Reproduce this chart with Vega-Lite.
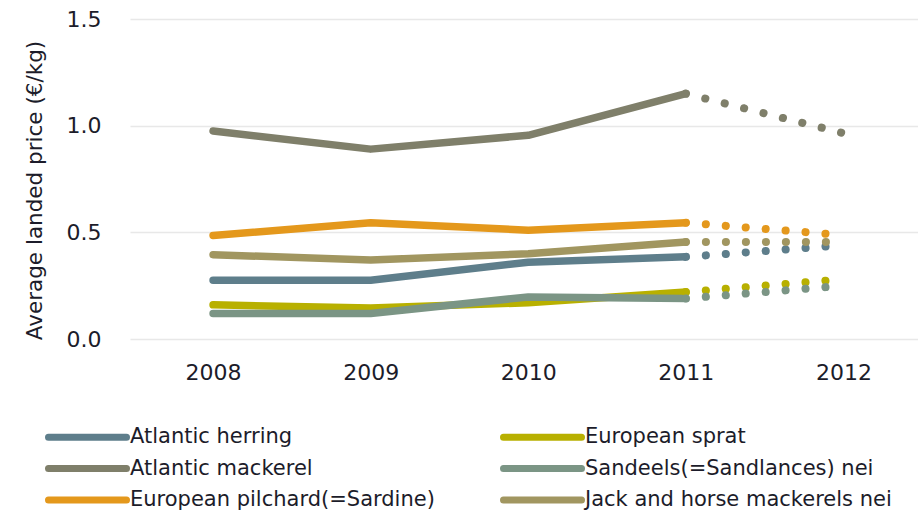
{
  "$schema": "https://vega.github.io/schema/vega-lite/v6.json",
  "width": 788,
  "height": 320,
  "autosize": {"type": "none"},
  "padding": {"left": 130, "top": 19, "right": 0, "bottom": 172},
  "background": "white",
  "config": {"view": {"stroke": null}, "font": "DejaVu Sans"},
  "data": {
    "values": [
      {"species": "Atlantic herring", "year": 2008, "price": 0.275},
      {"species": "Atlantic herring", "year": 2009, "price": 0.275},
      {"species": "Atlantic herring", "year": 2010, "price": 0.36},
      {"species": "Atlantic herring", "year": 2011, "price": 0.385},
      {"species": "Atlantic herring", "year": 2012, "price": 0.44},
      {"species": "European sprat", "year": 2008, "price": 0.16},
      {"species": "European sprat", "year": 2009, "price": 0.145},
      {"species": "European sprat", "year": 2010, "price": 0.17},
      {"species": "European sprat", "year": 2011, "price": 0.22},
      {"species": "European sprat", "year": 2012, "price": 0.28},
      {"species": "Atlantic mackerel", "year": 2008, "price": 0.975},
      {"species": "Atlantic mackerel", "year": 2009, "price": 0.89},
      {"species": "Atlantic mackerel", "year": 2010, "price": 0.955},
      {"species": "Atlantic mackerel", "year": 2011, "price": 1.15},
      {"species": "Atlantic mackerel", "year": 2012, "price": 0.965},
      {"species": "Sandeels(=Sandlances) nei", "year": 2008, "price": 0.12},
      {"species": "Sandeels(=Sandlances) nei", "year": 2009, "price": 0.12},
      {"species": "Sandeels(=Sandlances) nei", "year": 2010, "price": 0.197},
      {"species": "Sandeels(=Sandlances) nei", "year": 2011, "price": 0.19},
      {"species": "Sandeels(=Sandlances) nei", "year": 2012, "price": 0.25},
      {"species": "European pilchard(=Sardine)", "year": 2008, "price": 0.485},
      {"species": "European pilchard(=Sardine)", "year": 2009, "price": 0.545},
      {"species": "European pilchard(=Sardine)", "year": 2010, "price": 0.51},
      {"species": "European pilchard(=Sardine)", "year": 2011, "price": 0.545},
      {"species": "European pilchard(=Sardine)", "year": 2012, "price": 0.487},
      {"species": "Jack and horse mackerels nei", "year": 2008, "price": 0.395},
      {"species": "Jack and horse mackerels nei", "year": 2009, "price": 0.37},
      {"species": "Jack and horse mackerels nei", "year": 2010, "price": 0.4},
      {"species": "Jack and horse mackerels nei", "year": 2011, "price": 0.455},
      {"species": "Jack and horse mackerels nei", "year": 2012, "price": 0.455}
    ]
  },
  "encoding": {
    "x": {
      "field": "year",
      "type": "ordinal",
      "scale": {"paddingOuter": 0.47, "align": 0.527},
      "axis": {
        "title": null,
        "labelAngle": 0,
        "labelFontSize": 22,
        "labelColor": "#1c1c2a",
        "labelPadding": 23,
        "domain": false,
        "ticks": false,
        "grid": false
      }
    },
    "y": {
      "field": "price",
      "type": "quantitative",
      "scale": {"domain": [0, 1.5]},
      "axis": {
        "title": "Average landed price (€/kg)",
        "titleFontSize": 21.5,
        "titleFontWeight": "normal",
        "titleColor": "#1c1c2a",
        "titlePadding": 20,
        "titleY": 171,
        "values": [0, 0.5, 1, 1.5],
        "format": ".1f",
        "labelFontSize": 22,
        "labelColor": "#1c1c2a",
        "labelPadding": 29,
        "domain": false,
        "ticks": false,
        "gridColor": "#e8e8e8",
        "gridWidth": 1.5
      }
    },
    "color": {
      "field": "species",
      "type": "nominal",
      "scale": {
        "domain": ["Atlantic herring", "Atlantic mackerel", "European pilchard(=Sardine)", "European sprat", "Sandeels(=Sandlances) nei", "Jack and horse mackerels nei"],
        "range": ["#5e7e8b", "#7f7f6a", "#e4981c", "#b8b000", "#7b9585", "#a19660"]
      },
      "legend": {
        "title": null,
        "orient": "none",
        "legendX": -85,
        "legendY": 404.5,
        "columns": 2,
        "symbolType": "M-3.9,0H3.9",
        "symbolSize": 400,
        "symbolStrokeWidth": 7,
        "symbolDash": [1, 0],
        "symbolOffset": 29,
        "labelFontSize": 21,
        "labelColor": "#1c1c2a",
        "labelOffset": 29,
        "columnPadding": 54,
        "rowPadding": 2.5,
        "labelLimit": 400,
        "encode": {"symbols": {"update": {"strokeCap": {"value": "round"}}}}
      }
    }
  },
  "layer": [
    {
      "transform": [{"filter": "datum.year <= 2011"}],
      "mark": {"type": "line", "strokeWidth": 7.5, "strokeCap": "round", "strokeJoin": "round"}
    },
    {
      "transform": [{"filter": "datum.year >= 2011"}],
      "mark": {"type": "line", "strokeWidth": 8, "strokeCap": "round", "strokeDash": [0.1, 19.9]}
    }
  ]
}
